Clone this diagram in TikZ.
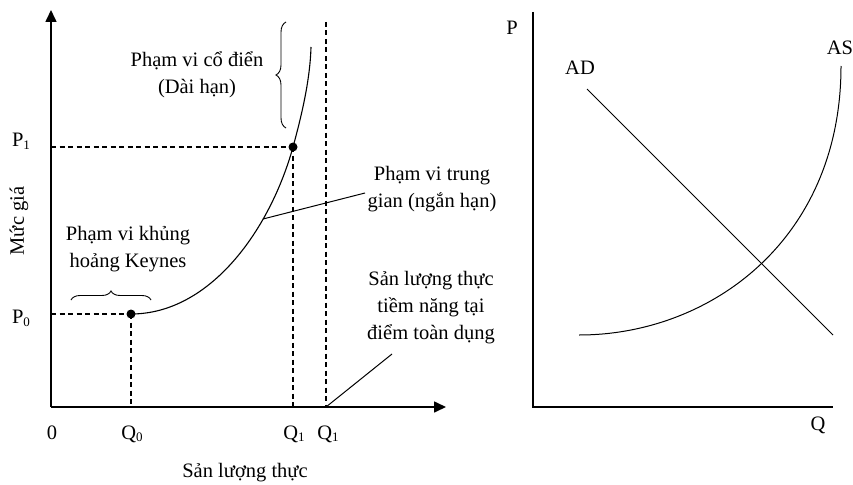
\documentclass[tikz,border=0pt]{standalone}
\usepackage{fontspec}
\setmainfont{Liberation Serif}
\usetikzlibrary{arrows.meta,decorations.pathreplacing}
\newcommand{\subn}[1]{\raisebox{-0.3ex}{\fontsize{13}{13}\selectfont #1}}
\begin{document}
\begin{tikzpicture}[x=1pt,y=-1pt,
  axis/.style={line width=1.6pt},
  arrowaxis/.style={axis, -{Triangle[length=12pt,width=11pt]}},
  curve/.style={line width=1.1pt},
  thin/.style={line width=1pt},
  guide/.style={line width=1.1pt, dash pattern=on 5pt off 3.5pt},
  lbl/.style={font=\fontsize{20.5}{27}\selectfont, inner sep=0pt, align=center},
  dot/.style={circle, fill, inner sep=0pt, minimum size=9pt},
  bracestyle/.style={line width=0.9pt, decorate, decoration={brace, amplitude=#1}}]
\useasboundingbox (0,0) rectangle (853,484);
% ---------- left diagram ----------
\coordinate (O) at (51,407);
\coordinate (ytop) at (51,10);
\coordinate (xend) at (446,407);
\draw[arrowaxis] (O) -- (ytop);
\draw[arrowaxis] (O) -- (xend);

\node[dot] (p0) at (131,314) {};
\node[dot] (p1) at (293,147) {};
\coordinate (top) at (311,47);
\coordinate (q0) at (131,407);
\coordinate (q1) at (293,407);
\coordinate (q2) at (326,407);
\coordinate (q2top) at (326,22);
\coordinate (p0ax) at (51,314);
\coordinate (p1ax) at (51,147);

\draw[guide] (p0ax) -- (p0.center);
\draw[guide] (p1ax) -- (p1.center);
\draw[guide] (p0.center) -- (q0);
\draw[guide] (p1.center) -- (q1);
\draw[guide] (q2top) -- (q2);

\draw[curve] (p0.center) .. controls (210,314) and (270,230) .. (p1.center)
  .. controls (302,114) and (310,80) .. (top);

% braces
\coordinate (b1a) at (286,128);
\coordinate (b1b) at (286,22);
\draw[bracestyle=10pt] (b1a) -- (b1b);
\coordinate (b2a) at (71,300);
\coordinate (b2b) at (151,300);
\draw[bracestyle=9pt] (b2a) -- (b2b);

% labels
\node[lbl] (classic) at (197,75) {Phạm vi cổ điển\\(Dài hạn)};
\node[lbl] (keynes) at (128,249) {Phạm vi khủng\\hoảng Keynes};
\node[lbl] (mid) at (432,189) {Phạm vi trung\\gian (ngắn hạn)};
\node[lbl] (pot) at (431,308) {Sản lượng thực\\tiềm năng tại\\điểm toàn dụng};

\coordinate (midpt) at (263,219);
\coordinate (midend) at (365,193);
\draw[thin] (midpt) -- (midend);
\coordinate (potend) at (392,354);
\draw[thin] (q2) -- (potend);

\node[lbl, rotate=90] (mucgia) at (19,221) {Mức giá};
\node[lbl] (P1lbl) at (21,141) {P\subn{1}};
\node[lbl] (P0lbl) at (21,318) {P\subn{0}};
\node[lbl] (zero) at (52,433) {0};
\node[lbl] (Q0lbl) at (132,434) {Q\subn{0}};
\node[lbl] (Q1lbl) at (294,434) {Q\subn{1}};
\node[lbl] (Q1blbl) at (328,434) {Q\subn{1}};
\node[lbl] (xlbl) at (245,473) {Sản lượng thực};

% ---------- right diagram ----------
\coordinate (O2) at (533,407);
\coordinate (y2top) at (533,12);
\coordinate (x2end) at (833,407);
\draw[axis] (y2top) -- (O2) -- (x2end);

\coordinate (ad1) at (587,89);
\coordinate (ad2) at (833,335);
\draw[thin] (ad1) -- (ad2);
\coordinate (as1) at (579,335);
\coordinate (as2) at (841,66);
\draw[thin] (as1) .. controls (710,335) and (841,240) .. (as2);

\node[lbl] (Plbl) at (512,28) {P};
\node[lbl] (Qlbl) at (818,425) {Q};
\node[lbl] (ADlbl) at (580,68) {AD};
\node[lbl] (ASlbl) at (840,48) {AS};
\end{tikzpicture}
\end{document}
